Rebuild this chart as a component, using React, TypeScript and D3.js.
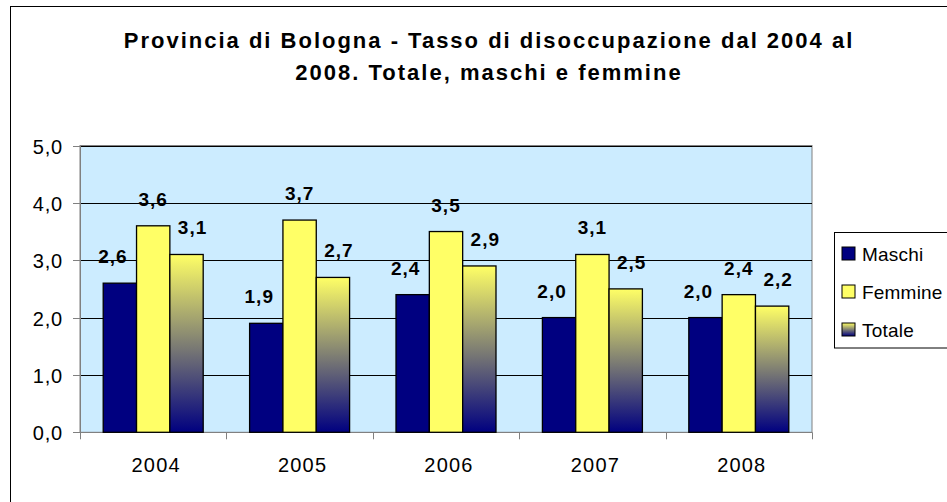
import React, { useEffect, useRef } from 'react';
import * as d3 from 'd3';

// data
const years = ['2004', '2005', '2006', '2007', '2008'];
const seriesNames = ['Maschi', 'Femmine', 'Totale'];
const maschi = [2.6, 1.9, 2.4, 2.0, 2.0];
const femmine = [3.6, 3.7, 3.5, 3.1, 2.4];
const totale = [3.1, 2.7, 2.9, 2.5, 2.2];
const yTicks = [0, 1, 2, 3, 4, 5];
const titleLines = [
  'Provincia di Bologna - Tasso di disoccupazione dal 2004 al',
  '2008. Totale, maschi e femmine',
];

const W = 947;
const H = 502;

const App = () => {
  const svgRef = useRef<SVGSVGElement | null>(null);

  useEffect(() => {
    const svg = d3.select(svgRef.current);
    svg.selectAll('*').remove();

    const font = 'Arial, "Liberation Sans", sans-serif';
    const plot = { left: 80, right: 812, top: 145.5, bottom: 432.3 };

    const fmt = (v: number) => d3.format('.1f')(v).replace('.', ',');

    const values: Record<string, number[]> = {
      Maschi: maschi,
      Femmine: femmine,
      Totale: totale,
    };

    // gradient for Totale
    const defs = svg.append('defs');
    const grad = defs.append('linearGradient')
      .attr('id', 'totGrad')
      .attr('x1', 0).attr('y1', 0).attr('x2', 0).attr('y2', 1);
    grad.append('stop').attr('offset', '0%').attr('stop-color', '#FFFF66');
    grad.append('stop').attr('offset', '100%').attr('stop-color', '#000080');

    const fills: Record<string, string> = {
      Maschi: '#000080',
      Femmine: '#FFFF66',
      Totale: 'url(#totGrad)',
    };

    // outer chart border (extends past the window)
    svg.append('rect')
      .attr('x', 10.5).attr('y', 6.5)
      .attr('width', 960).attr('height', 520)
      .attr('fill', '#fff')
      .attr('stroke', '#000').attr('stroke-width', 1);

    // title
    const title = svg.append('text')
      .attr('text-anchor', 'middle')
      .attr('font-family', font)
      .attr('font-weight', 'bold')
      .attr('font-size', 22)
      .attr('letter-spacing', 2)
      .attr('fill', '#000');
    titleLines.forEach((line, i) => {
      title.append('tspan')
        .attr('x', 489)
        .attr('y', 48 + i * 32)
        .text(line);
    });

    const x0 = d3.scaleBand<string>()
      .domain(years)
      .range([plot.left, plot.right])
      .paddingInner(0.317)
      .paddingOuter(0.1585);

    const x1 = d3.scaleBand<string>()
      .domain(seriesNames)
      .range([0, x0.bandwidth()]);

    const y = d3.scaleLinear()
      .domain([0, 5])
      .range([plot.bottom, plot.top]);

    // plot area
    svg.append('rect')
      .attr('x', plot.left).attr('y', plot.top)
      .attr('width', plot.right - plot.left)
      .attr('height', plot.bottom - plot.top)
      .attr('fill', '#CCECFF')
      .attr('stroke', '#808080');

    // gridlines
    svg.append('g')
      .selectAll('line')
      .data(yTicks.filter(t => t > 0))
      .enter()
      .append('line')
      .attr('x1', plot.left).attr('x2', plot.right)
      .attr('y1', d => Math.round(y(d)) + 0.5)
      .attr('y2', d => Math.round(y(d)) + 0.5)
      .attr('stroke', '#000')
      .attr('stroke-width', 1);

    // y axis
    const yAxis = svg.append('g');
    yAxis.append('line')
      .attr('x1', plot.left + 0.5).attr('x2', plot.left + 0.5)
      .attr('y1', plot.top).attr('y2', plot.bottom)
      .attr('stroke', '#808080');
    yTicks.forEach(t => {
      const yy = Math.round(y(t)) + 0.5;
      yAxis.append('line')
        .attr('x1', plot.left - 7).attr('x2', plot.left)
        .attr('y1', yy).attr('y2', yy)
        .attr('stroke', '#808080');
      yAxis.append('text')
        .attr('x', 63)
        .attr('y', yy + 7)
        .attr('text-anchor', 'end')
        .attr('font-family', font)
        .attr('font-size', 20)
        .attr('letter-spacing', 0.8)
        .text(fmt(t));
    });

    // x axis
    const xAxis = svg.append('g');
    xAxis.append('line')
      .attr('x1', plot.left).attr('x2', plot.right)
      .attr('y1', Math.round(plot.bottom) + 0.5)
      .attr('y2', Math.round(plot.bottom) + 0.5)
      .attr('stroke', '#808080');
    const step = x0.step();
    d3.range(years.length + 1).forEach(i => {
      const xx = Math.round(plot.left + i * step) + 0.5;
      xAxis.append('line')
        .attr('x1', xx).attr('x2', xx)
        .attr('y1', plot.bottom).attr('y2', plot.bottom + 7)
        .attr('stroke', '#808080');
    });
    years.forEach(yr => {
      xAxis.append('text')
        .attr('x', (x0(yr) as number) + x0.bandwidth() / 2 + 3)
        .attr('y', 472)
        .attr('text-anchor', 'middle')
        .attr('font-family', font)
        .attr('font-size', 20)
        .attr('letter-spacing', 1.2)
        .text(yr);
    });

    // bars
    const labelShift: Record<string, number> = { Maschi: -7, Femmine: 0, Totale: 6 };
    seriesNames.forEach(name => {
      const g = svg.append('g');
      g.selectAll('rect')
        .data(values[name])
        .enter()
        .append('rect')
        .attr('x', (d, i) => (x0(years[i]) as number) + (x1(name) as number))
        .attr('y', d => y(d))
        .attr('width', x1.bandwidth())
        .attr('height', d => y(0) - y(d))
        .attr('fill', fills[name])
        .attr('stroke', '#000')
        .attr('stroke-width', 1.3);

      g.selectAll('text')
        .data(values[name])
        .enter()
        .append('text')
        .attr('x', (d, i) => (x0(years[i]) as number) + (x1(name) as number) + x1.bandwidth() / 2 + labelShift[name])
        .attr('y', d => y(d) - 20)
        .attr('text-anchor', 'middle')
        .attr('font-family', font)
        .attr('font-weight', 'bold')
        .attr('font-size', 19)
        .attr('letter-spacing', 1)
        .text(d => fmt(d));
    });

    // legend
    const legend = svg.append('g');
    legend.append('rect')
      .attr('x', 834.5).attr('y', 232.5)
      .attr('width', 140).attr('height', 115.5)
      .attr('fill', '#fff')
      .attr('stroke', '#000');
    seriesNames.forEach((name, i) => {
      const cy = 253.5 + i * 38;
      legend.append('rect')
        .attr('x', 842).attr('y', cy - 6.5)
        .attr('width', 13).attr('height', 13)
        .attr('fill', fills[name])
        .attr('stroke', '#000');
      legend.append('text')
        .attr('x', 862)
        .attr('y', cy + 7)
        .attr('font-family', font)
        .attr('font-size', 19)
        .attr('letter-spacing', 0.2)
        .text(name);
    });
  }, []);

  return (
    <svg
      ref={svgRef}
      width={W}
      height={H}
      style={{ position: 'absolute', left: 0, top: 0, background: '#fff' }}
    />
  );
};

export default App;
